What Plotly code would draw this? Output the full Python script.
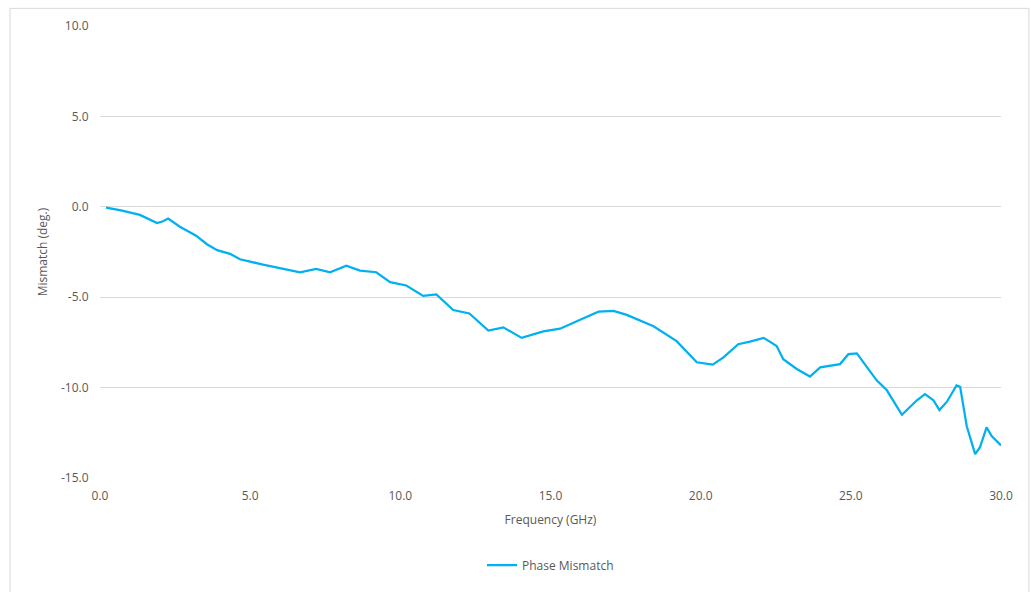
import plotly.graph_objects as go

freq_ghz = [0.2, 0.7, 1.33, 1.9, 2.1, 2.27, 2.66, 3.2, 3.56, 3.9, 4.33, 4.66, 5.43, 6.1, 6.66,
            7.2, 7.66, 8.2, 8.66, 9.2, 9.66, 10.2, 10.76, 11.2, 11.76, 12.3, 12.93, 13.43,
            14.04, 14.76, 15.32, 16.1, 16.6, 17.1, 17.54, 18.43, 19.2, 19.87, 20.4, 20.76,
            21.25, 21.64, 22.1, 22.53, 22.75, 23.2, 23.64, 23.98, 24.64, 24.92, 25.2, 25.86,
            26.2, 26.7, 27.2, 27.47, 27.75, 27.95, 28.2, 28.52, 28.64, 28.86, 29.14, 29.3,
            29.52, 29.69, 30.0]
mismatch_deg = [-0.05, -0.2, -0.45, -0.9, -0.8, -0.65, -1.1, -1.6, -2.07, -2.4, -2.6, -2.9,
                -3.2, -3.42, -3.63, -3.43, -3.62, -3.26, -3.53, -3.62, -4.17, -4.35, -4.93,
                -4.85, -5.71, -5.9, -6.85, -6.67, -7.25, -6.89, -6.74, -6.16, -5.8, -5.76,
                -5.98, -6.61, -7.43, -8.6, -8.73, -8.33, -7.6, -7.46, -7.25, -7.7, -8.43,
                -8.97, -9.39, -8.88, -8.7, -8.15, -8.11, -9.6, -10.15, -11.5, -10.7, -10.36,
                -10.7, -11.24, -10.78, -9.88, -9.96, -12.14, -13.68, -13.3, -12.2, -12.68,
                -13.2]

y_tick_vals = [-15, -10, -5, 0, 5, 10]
y_tick_text = ["-15.0", "-10.0", "-5.0", "0.0", "5.0", "10.0"]
x_tick_vals = [0, 5, 10, 15, 20, 25, 30]
x_tick_text = ["0.0", "5.0", "10.0", "15.0", "20.0", "25.0", "30.0"]

series_name = "Phase Mismatch"
x_title = "Frequency (GHz)"
y_title = "Mismatch (deg.)"

fig = go.Figure()
fig.add_trace(go.Scatter(x=freq_ghz, y=mismatch_deg, mode="lines", name=series_name,
                         line=dict(color="#00B0F0", width=2.25)))

font_family = "Open Sans"
tick_color = "#595959"

# plot area at page px x 100..1001, y 26..486
fig.update_layout(
    width=1031, height=592,
    paper_bgcolor="white", plot_bgcolor="white",
    margin=dict(l=100, r=30, t=26, b=106),
    font=dict(family=font_family, size=12, color=tick_color),
    showlegend=True,
    legend=dict(orientation="h", x=0.5, xanchor="center", y=-0.193, yanchor="middle",
                font=dict(size=12, color=tick_color)),
    xaxis=dict(range=[0, 30], tickvals=x_tick_vals, ticktext=x_tick_text, showgrid=False,
               zeroline=False, showline=False, ticks="outside", ticklen=7,
               tickcolor="rgba(0,0,0,0)",
               title=dict(text=x_title, standoff=12, font=dict(size=12, color=tick_color))),
    yaxis=dict(range=[-15, 10], tickvals=y_tick_vals, ticktext=y_tick_text, showgrid=True,
               gridcolor="#D9D9D9", gridwidth=1, zeroline=False, showline=False,
               ticks="outside", ticklen=8, tickcolor="rgba(0,0,0,0)",
               title=dict(text=y_title, standoff=10, font=dict(size=12, color=tick_color))),
)

# outer chart-area border
fig.add_shape(type="rect", xref="paper", yref="paper", x0=-0.0999, x1=1.031, y0=-0.3, y1=1.039,
              line=dict(color="#D9D9D9", width=1), fillcolor="rgba(0,0,0,0)", layer="below")

page_js = (
    "var h=document.documentElement, b=document.body;"
    "[h,b].forEach(function(e){e.style.margin='0';e.style.padding='0';e.style.height='592px';"
    "e.style.overflow='hidden';});"
    "var d=document.getElementById('{plot_id}');"
    "if(d&&d.parentElement){d.parentElement.style.height='592px';d.parentElement.style.overflow='hidden';}"
)
fig.write_html("out.html", post_script=page_js, config={"displayModeBar": False})
